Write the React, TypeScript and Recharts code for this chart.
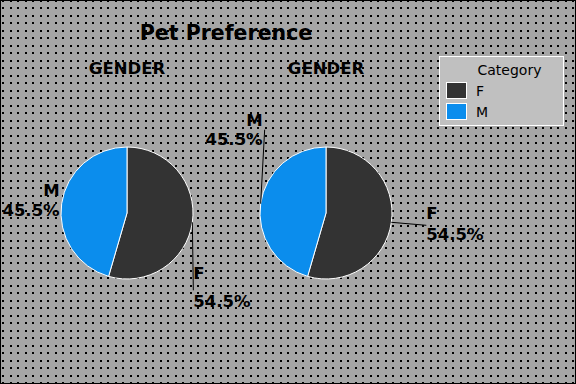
import { PieChart, Pie, Cell, Legend } from "recharts";

const categories = ["F", "M"];
const shares = [54.5, 45.5];
const pieTitles = ["GENDER", "GENDER"];
const chartTitle = "Pet Preference";
const legendTitle = "Category";

const data = categories.map((name, i) => ({ name, value: shares[i] }));

const W = 576;
const H = 384;
const COLORS = ["#333333", "#0b8ded"];
const PIE_X = [127, 326];
const PIE_Y = 213;
const RADIUS = 66;
const FONT = "'DejaVu Sans', Verdana, sans-serif";

// label placement relative to the slice's outer edge point at mid angle
const labelLayouts = [
  {
    F: { lx: 1, ly: 68, tx: 1, anchor: "start", y1: 57, y2: 85, line: true },
    M: { lx: 0, ly: 0, tx: -2, anchor: "end", y1: -8, y2: 12, line: false },
  },
  {
    M: { lx: 4, ly: -74, tx: 2, anchor: "end", y1: -78, y2: -59, line: true },
    F: { lx: 35, ly: 3, tx: 35, anchor: "start", y1: -3, y2: 18, line: true },
  },
];

const RAD = Math.PI / 180;

const makeLabel = (pieIdx: number) => (props: any) => {
  const { cx, cy, midAngle, outerRadius, name, percent } = props;
  const ex = cx + outerRadius * Math.cos(-midAngle * RAD);
  const ey = cy + outerRadius * Math.sin(-midAngle * RAD);
  const l = (labelLayouts[pieIdx] as any)[name];
  return (
    <g>
      {l.line && (
        <line x1={ex} y1={ey} x2={ex + l.lx} y2={ey + l.ly} stroke="#000" strokeWidth={1} />
      )}
      <text x={ex + l.tx} y={ey + l.y1} textAnchor={l.anchor} fontFamily={FONT} fontWeight="bold" fontSize={16.5} fill="#000">
        {name}
      </text>
      <text x={ex + l.tx} y={ey + l.y2} textAnchor={l.anchor} fontFamily={FONT} fontWeight="bold" fontSize={16.5} fill="#000">
        {`${(percent * 100).toFixed(1)}%`}
      </text>
    </g>
  );
};

const LegendBox = ({ payload }: any) => {
  const seen = new Set<string>();
  const items = (payload || []).filter((p: any) => {
    if (seen.has(p.value)) return false;
    seen.add(p.value);
    return true;
  });
  return (
    <div
      style={{
        width: 123,
        height: 68,
        background: "#c0c0c0",
        border: "1px solid #fff",
        fontFamily: FONT,
        fontSize: 14,
        color: "#000",
        position: "relative",
      }}
    >
      <div style={{ position: "absolute", left: 0, right: 0, top: 5, textAlign: "center", paddingLeft: 16 }}>
        {legendTitle}
      </div>
      {items.map((p: any, i: number) => (
        <div key={p.value} style={{ position: "absolute", left: 6, top: 25 + i * 21, display: "flex", alignItems: "center" }}>
          <span style={{ width: 19, height: 15, background: p.color, border: "1px solid #fff", display: "inline-block" }} />
          <span style={{ marginLeft: 9 }}>{p.value}</span>
        </div>
      ))}
    </div>
  );
};

export default function App() {
  return (
    <div style={{ position: "relative", width: W, height: H }}>
      <style>{"body{margin:0}"}</style>
      <svg width={W} height={H} style={{ position: "absolute", left: 0, top: 0 }}>
        <defs>
          <pattern id="dots" x={0} y={0} width={15} height={15} patternUnits="userSpaceOnUse">
            <rect width={15} height={15} fill="#a6a6a6" />
            <rect x={2} y={0} width={2} height={2} fill="#000" />
            <rect x={10} y={0} width={2} height={2} fill="#000" />
            <rect x={2} y={7} width={2} height={2} fill="#000" />
            <rect x={10} y={7} width={2} height={2} fill="#000" />
          </pattern>
        </defs>
        <rect x={0} y={0} width={W} height={H} fill="url(#dots)" />
        <rect x={0.5} y={0.5} width={W - 1} height={H - 1} fill="none" stroke="#000" />
        <text x={226} y={40} textAnchor="middle" fontFamily={FONT} fontWeight="bold" fontSize={20.5} fill="#000">
          {chartTitle}
        </text>
        {pieTitles.map((t, i) => (
          <text key={i} x={PIE_X[i]} y={74} textAnchor="middle" fontFamily={FONT} fontWeight="bold" fontSize={16.5} fill="#000">
            {t}
          </text>
        ))}
      </svg>
      <div style={{ position: "absolute", left: 0, top: 0 }}>
        <PieChart width={W} height={H} margin={{ top: 0, right: 0, bottom: 0, left: 0 }}>
          {PIE_X.map((x, i) => (
            <Pie
              key={i}
              data={data}
              dataKey="value"
              nameKey="name"
              cx={x}
              cy={PIE_Y}
              outerRadius={RADIUS}
              startAngle={90}
              endAngle={-270}
              stroke="#fff"
              strokeWidth={1}
              label={makeLabel(i)}
              labelLine={false}
              isAnimationActive={false}
            >
              {data.map((d, j) => (
                <Cell key={d.name} fill={COLORS[j]} />
              ))}
            </Pie>
          ))}
          <Legend
            content={<LegendBox />}
            wrapperStyle={{ position: "absolute", left: 439, top: 56, width: 125 }}
          />
        </PieChart>
      </div>
    </div>
  );
}
